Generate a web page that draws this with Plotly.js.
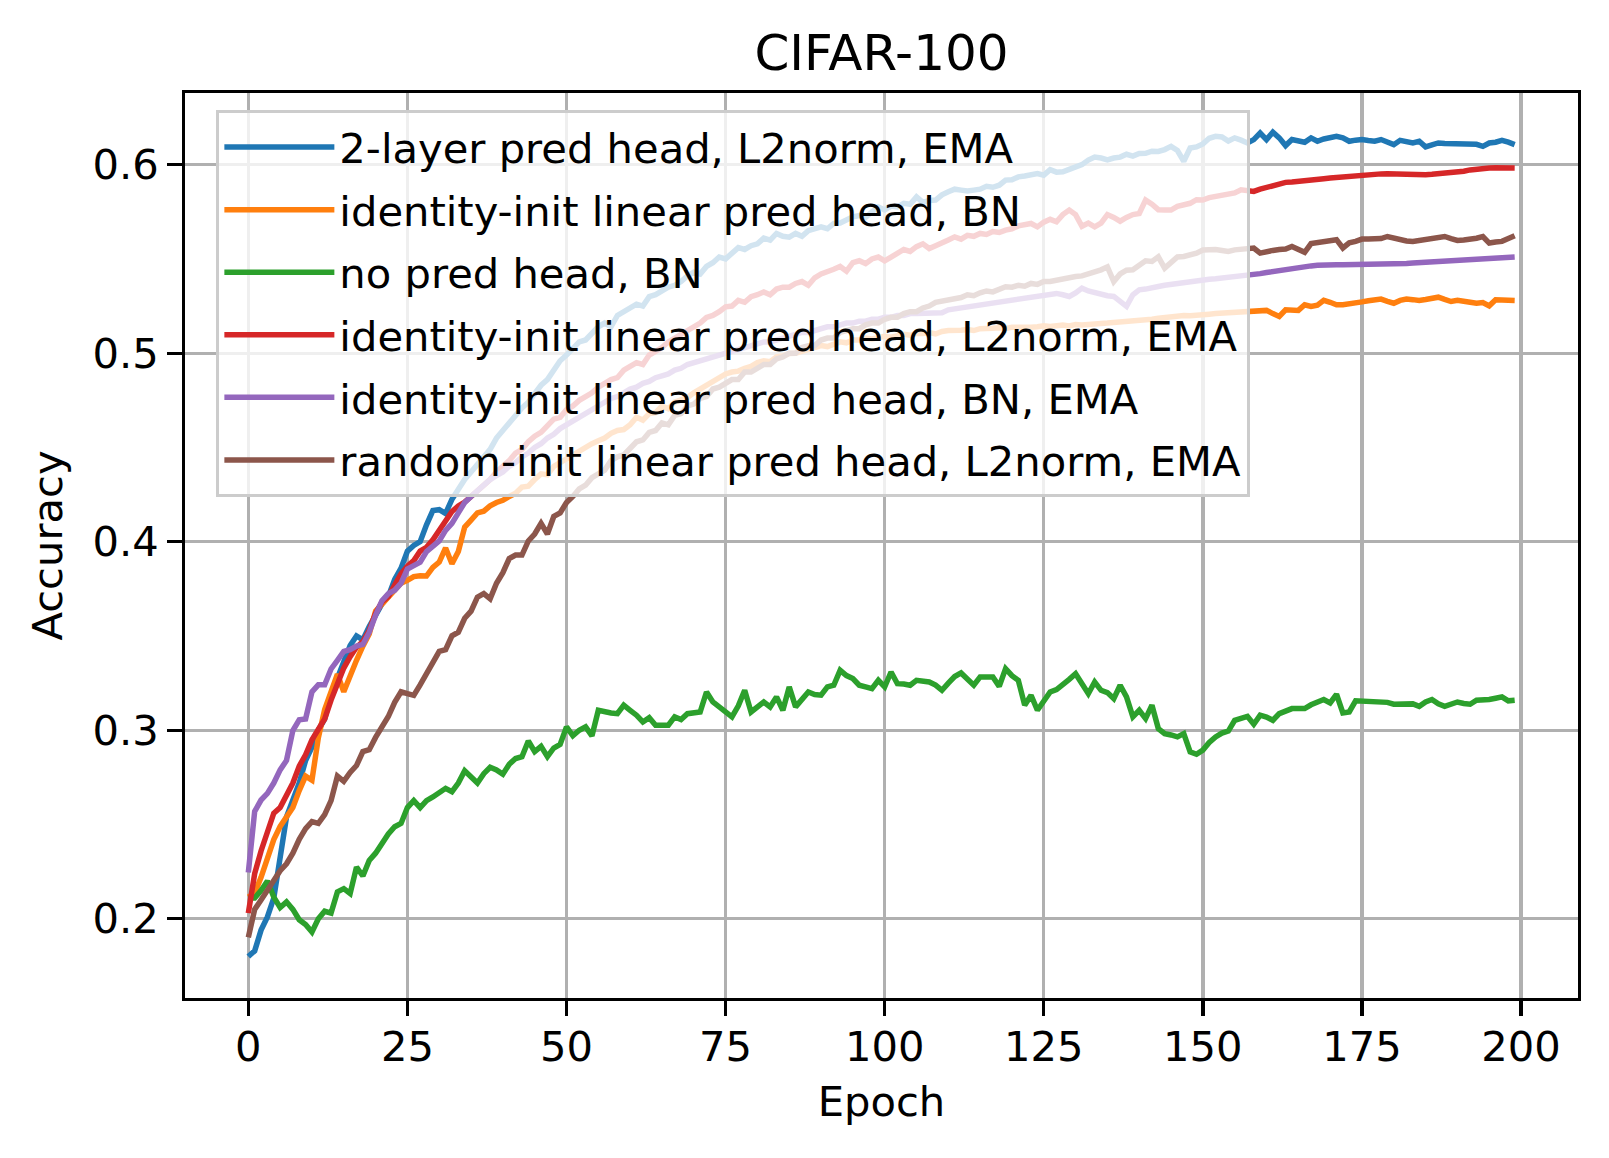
<!DOCTYPE html>
<html><head><meta charset="utf-8">
<script src="https://cdn.plot.ly/plotly-3.0.1.min.js"></script>
<style>html,body{margin:0;padding:0;background:#fff}#chart{width:1609px;height:1158px}</style>
</head><body><div id="chart"></div>
<script>
const seriesNames = [
  "2-layer pred head, L2norm, EMA",
  "identity-init linear pred head, BN",
  "no pred head, BN",
  "identity-init linear pred head, L2norm, EMA",
  "identity-init linear pred head, BN, EMA",
  "random-init linear pred head, L2norm, EMA"
];
const seriesColors = ["#1f77b4", "#ff7f0e", "#2ca02c", "#d62728", "#9467bd", "#8c564b"];

const twoLayerL2normEMA = [
  0.180,0.183,0.194,0.201,0.211,0.231,0.254,0.263,0.272,0.284,
  0.291,0.300,0.306,0.319,0.328,0.338,0.345,0.350,0.348,0.355,
  0.361,0.367,0.371,0.380,0.386,0.395,0.398,0.400,0.409,0.4165,
  0.417,0.415,0.4225,0.428,0.433,0.437,0.441,0.444,0.449,0.455,
  0.459,0.463,0.468,0.471,0.474,0.479,0.483,0.486,0.491,0.496,
  0.499,0.503,0.506,0.507,0.511,0.514,0.516,0.514,0.520,0.522,
  0.524,0.526,0.525,0.530,0.531,0.533,0.535,0.536,0.538,0.541,
  0.543,0.542,0.546,0.548,0.551,0.550,0.553,0.556,0.555,0.557,
  0.558,0.561,0.560,0.5635,0.562,0.5615,0.5635,0.562,0.565,0.566,
  0.567,0.566,0.5688,0.569,0.571,0.5723,0.573,0.572,0.575,0.5776,
  0.576,0.578,0.5776,0.5795,0.579,0.5829,0.580,0.581,0.5812,0.584,
  0.5856,0.587,0.5865,0.586,0.5865,0.587,0.5885,0.588,0.5891,0.5918,
  0.592,0.5935,0.594,0.5944,0.5953,0.5944,0.5973,0.596,0.5962,0.5975,
  0.599,0.600,0.6024,0.604,0.6035,0.6025,0.6035,0.604,0.6055,0.6045,
  0.6059,0.606,0.6071,0.607,0.608,0.6097,0.6075,0.6018,0.6088,0.6094,
  0.611,0.614,0.615,0.6147,0.6125,0.6142,0.613,0.6115,0.6133,0.6168,
  0.6133,0.6172,0.6142,0.6101,0.6133,0.6125,0.6119,0.6142,0.6124,0.6136,
  0.6145,0.615,0.6142,0.6124,0.613,0.6133,0.6128,0.6124,0.6133,0.612,
  0.6106,0.6129,0.612,0.6115,0.6124,0.6094,0.6105,0.6115,0.6112,0.6112,
  0.6115,0.6113,0.6112,0.6108,0.6097,0.6115,0.6119,0.6129,0.6119,0.6106
];
const identityLinearBN = [
  0.2115,0.2135,0.222,0.232,0.242,0.249,0.2535,0.259,0.268,0.2757,
  0.2735,0.296,0.311,0.3204,0.3297,0.3204,0.3297,0.3371,0.3446,0.3511,
  0.3632,0.3669,0.3706,0.3743,0.378,0.3795,0.3815,0.382,0.3818,0.3864,
  0.3892,0.3967,0.3883,0.3948,0.4078,0.4115,0.4153,0.4162,0.419,0.4208,
  0.422,0.424,0.4257,0.429,0.4295,0.433,0.436,0.4355,0.440,0.442,
  0.444,0.4465,0.4486,0.450,0.452,0.4535,0.455,0.4575,0.459,0.4595,
  0.462,0.466,0.4645,0.468,0.4685,0.472,0.4705,0.474,0.4751,0.4765,
  0.479,0.481,0.4825,0.485,0.4865,0.489,0.490,0.4905,0.492,0.493,
  0.495,0.496,0.4955,0.498,0.4985,0.4999,0.500,0.501,0.5025,0.503,
  0.504,0.5035,0.505,0.506,0.5055,0.507,0.507,0.508,0.5075,0.5085,
  0.509,0.5085,0.5095,0.510,0.5095,0.5105,0.5105,0.511,0.5102,0.5115,
  0.512,0.5118,0.5122,0.5125,0.512,0.513,0.5128,0.5132,0.5135,0.513,
  0.5138,0.5136,0.514,0.5138,0.514,0.5145,0.5142,0.5148,0.515,0.5145,
  0.5152,0.515,0.5155,0.5153,0.5158,0.516,0.5162,0.5165,0.517,0.5168,
  0.5175,0.5178,0.518,0.5185,0.519,0.5193,0.5195,0.520,0.5198,0.5203,
  0.5205,0.5207,0.521,0.5212,0.5208,0.5214,0.5216,0.5218,0.5221,0.5225,
  0.5227,0.521,0.5195,0.523,0.5228,0.5227,0.5257,0.5248,0.5255,0.528,
  0.527,0.5257,0.5257,0.526,0.5265,0.5272,0.5278,0.528,0.5287,0.5275,
  0.5265,0.528,0.5287,0.5284,0.528,0.5285,0.5292,0.5297,0.5285,0.5274,
  0.528,0.5278,0.527,0.5265,0.5269,0.5251,0.5283,0.5282,0.528,0.528
];
const noPredHeadBN = [
  0.211,0.211,0.215,0.220,0.2115,0.206,0.209,0.205,0.1995,0.197,
  0.193,0.200,0.204,0.203,0.2143,0.216,0.2134,0.2274,0.2227,0.231,
  0.2348,0.2404,0.245,0.2488,0.2506,0.259,0.2627,0.259,0.2627,0.2646,
  0.2665,0.2692,0.2674,0.272,0.2785,0.275,0.272,0.277,0.2804,0.279,
  0.2767,0.282,0.285,0.286,0.2943,0.2887,0.2915,0.286,0.2906,0.2925,
  0.3018,0.2971,0.300,0.3018,0.297,0.3106,0.3097,0.3092,0.3088,0.3133,
  0.3106,0.308,0.3044,0.3067,0.3027,0.3027,0.3027,0.3071,0.3057,0.3088,
  0.309,0.3097,0.3203,0.315,0.3124,0.310,0.3071,0.313,0.3212,0.3097,
  0.312,0.315,0.3124,0.3177,0.3106,0.323,0.3124,0.316,0.3203,0.319,
  0.3186,0.323,0.3239,0.3318,0.329,0.3274,0.3239,0.323,0.3221,0.3265,
  0.323,0.3309,0.3247,0.3245,0.3239,0.3265,0.326,0.3256,0.324,0.3212,
  0.325,0.3285,0.3304,0.327,0.3239,0.3283,0.3283,0.3283,0.3233,0.3327,
  0.329,0.3265,0.3133,0.3186,0.3106,0.315,0.3203,0.3216,0.324,0.327,
  0.330,0.3245,0.3194,0.3256,0.3212,0.320,0.3168,0.3239,0.3177,0.3071,
  0.3106,0.3062,0.3133,0.3009,0.2982,0.2975,0.2965,0.2982,0.2885,0.2873,
  0.2895,0.2935,0.2965,0.2985,0.2996,0.3053,0.306,0.3074,0.3032,0.308,
  0.307,0.3053,0.3088,0.310,0.3115,0.3115,0.3115,0.3135,0.315,0.3163,
  0.3145,0.3191,0.3092,0.3097,0.3156,0.3154,0.3154,0.3152,0.315,0.3148,
  0.3138,0.314,0.3145,0.314,0.3127,0.315,0.3163,0.314,0.3127,0.3135,
  0.315,0.3142,0.3138,0.3159,0.316,0.3163,0.317,0.3177,0.3156,0.3159
];
const identityLinearL2normEMA = [
  0.203,0.224,0.236,0.247,0.256,0.259,0.265,0.272,0.281,0.287,
  0.295,0.301,0.306,0.316,0.325,0.333,0.339,0.344,0.347,0.353,
  0.362,0.368,0.371,0.377,0.383,0.387,0.390,0.395,0.397,0.401,
  0.406,0.411,0.416,0.419,0.421,0.424,0.427,0.430,0.433,0.437,
  0.440,0.443,0.447,0.449,0.453,0.456,0.458,0.462,0.465,0.466,
  0.470,0.472,0.475,0.477,0.479,0.482,0.484,0.486,0.487,0.491,
  0.493,0.495,0.494,0.499,0.501,0.503,0.506,0.508,0.510,0.512,
  0.514,0.516,0.519,0.520,0.522,0.5246,0.525,0.528,0.527,0.530,
  0.531,0.5325,0.531,0.534,0.535,0.535,0.537,0.538,0.536,0.540,
  0.542,0.543,0.5445,0.546,0.5435,0.548,0.549,0.5475,0.550,0.551,
  0.549,0.551,0.553,0.555,0.554,0.5565,0.558,0.5555,0.557,0.5582,
  0.560,0.5617,0.5605,0.5625,0.562,0.5635,0.563,0.5645,0.564,0.5653,
  0.566,0.5675,0.568,0.5688,0.567,0.5695,0.571,0.5697,0.5735,0.5759,
  0.5735,0.5673,0.569,0.567,0.569,0.5735,0.572,0.570,0.572,0.5735,
  0.5741,0.5812,0.579,0.5761,0.576,0.5759,0.5779,0.579,0.5795,0.5814,
  0.5812,0.5825,0.583,0.5841,0.584,0.585,0.5867,0.5862,0.5858,0.587,
  0.588,0.5885,0.5895,0.5906,0.5908,0.591,0.5915,0.592,0.5922,0.5925,
  0.5929,0.5932,0.5936,0.5942,0.5944,0.5947,0.5948,0.595,0.5951,0.5952,
  0.5951,0.5948,0.5945,0.5942,0.5944,0.5947,0.5949,0.5951,0.5952,0.5955,
  0.5959,0.5965,0.5972,0.5977,0.598,0.5982,0.5983,0.5983,0.5982,0.5982
];
const identityLinearBNEMA = [
  0.2246,0.257,0.263,0.2665,0.272,0.279,0.284,0.2999,0.3055,0.306,
  0.3204,0.3241,0.3241,0.3325,0.3371,0.3418,0.3427,0.3446,0.3455,0.352,
  0.361,0.3687,0.3725,0.3743,0.378,0.3855,0.3873,0.3892,0.3948,0.398,
  0.4004,0.406,0.4097,0.4153,0.4208,0.424,0.427,0.430,0.433,0.435,
  0.437,0.440,0.442,0.445,0.447,0.450,0.452,0.455,0.457,0.460,
  0.462,0.464,0.466,0.468,0.470,0.472,0.474,0.476,0.477,0.479,
  0.481,0.482,0.484,0.485,0.487,0.488,0.489,0.491,0.492,0.494,
  0.495,0.496,0.497,0.498,0.499,0.500,0.501,0.502,0.503,0.504,
  0.505,0.506,0.506,0.507,0.508,0.509,0.510,0.511,0.511,0.512,
  0.513,0.514,0.514,0.515,0.516,0.516,0.517,0.517,0.518,0.518,
  0.519,0.519,0.520,0.520,0.521,0.521,0.521,0.5215,0.521,0.5215,
  0.523,0.5235,0.524,0.5245,0.525,0.526,0.5265,0.527,0.5275,0.528,
  0.5285,0.529,0.5295,0.530,0.5305,0.531,0.5317,0.5317,0.531,0.5301,
  0.532,0.5345,0.533,0.532,0.531,0.5305,0.5301,0.527,0.5248,0.531,
  0.5336,0.534,0.535,0.5354,0.536,0.5365,0.5372,0.5378,0.538,0.5385,
  0.5389,0.5392,0.5395,0.5398,0.540,0.5405,0.541,0.5413,0.5416,0.5422,
  0.5428,0.5434,0.544,0.5446,0.5451,0.5455,0.5459,0.5463,0.5466,0.5469,
  0.5469,0.5469,0.5469,0.5469,0.5469,0.547,0.547,0.5471,0.5472,0.5473,
  0.5474,0.5475,0.5476,0.5478,0.548,0.5481,0.5484,0.5487,0.549,0.5492,
  0.5495,0.5497,0.550,0.5502,0.5504,0.5505,0.5506,0.5508,0.5509,0.551
];
const randomLinearL2normEMA = [
  0.1901,0.205,0.210,0.215,0.220,0.2255,0.2292,0.2348,0.2422,0.2478,
  0.2515,0.2506,0.2553,0.2627,0.2757,0.2729,0.2776,0.2813,0.2887,0.2897,
  0.2962,0.3018,0.3073,0.3148,0.3204,0.3194,0.3185,0.3241,0.3297,0.3353,
  0.3418,0.3427,0.3501,0.352,0.3594,0.3632,0.3706,0.3725,0.3697,0.378,
  0.3836,0.3911,0.3929,0.3929,0.4004,0.4041,0.4097,0.4041,0.4134,0.4153,
  0.4208,0.424,0.428,0.430,0.434,0.436,0.438,0.443,0.445,0.446,
  0.450,0.453,0.454,0.458,0.459,0.463,0.462,0.467,0.468,0.472,
  0.473,0.476,0.477,0.481,0.482,0.484,0.486,0.486,0.490,0.490,
  0.492,0.494,0.494,0.497,0.498,0.500,0.500,0.503,0.504,0.504,
  0.507,0.508,0.508,0.511,0.512,0.513,0.513,0.515,0.516,0.516,
  0.518,0.519,0.519,0.521,0.522,0.522,0.524,0.525,0.527,0.5275,
  0.528,0.529,0.5295,0.531,0.5305,0.532,0.533,0.5325,0.534,0.5352,
  0.535,0.536,0.5355,0.537,0.5365,0.538,0.538,0.5388,0.539,0.540,
  0.5407,0.541,0.542,0.543,0.5442,0.5458,0.538,0.542,0.544,0.5442,
  0.547,0.549,0.5487,0.5511,0.5451,0.548,0.551,0.5513,0.552,0.553,
  0.5547,0.5549,0.555,0.5545,0.554,0.5548,0.555,0.5552,0.5558,0.5531,
  0.554,0.5545,0.555,0.5552,0.5566,0.5552,0.5535,0.5581,0.5585,0.5593,
  0.5598,0.5602,0.5558,0.5585,0.5593,0.5605,0.5605,0.5605,0.5608,0.5619,
  0.561,0.5598,0.5595,0.5593,0.5598,0.5602,0.5611,0.5615,0.5619,0.5608,
  0.5598,0.560,0.5602,0.561,0.5619,0.5584,0.559,0.5593,0.5608,0.5623
];

const allSeries = [twoLayerL2normEMA, identityLinearBN, noPredHeadBN,
                   identityLinearL2normEMA, identityLinearBNEMA, randomLinearL2normEMA];
const xTickVals = [0, 25, 50, 75, 100, 125, 150, 175, 200];
const yTickVals = [0.2, 0.3, 0.4, 0.5, 0.6];
const yTickText = ["0.2", "0.3", "0.4", "0.5", "0.6"];

const FONT = "DejaVu Sans, Verdana, sans-serif";
const FS = 41.67;

const traces = allSeries.map((vals, i) => ({
  type: "scatter",
  mode: "lines",
  x: vals.map((_, k) => k),
  y: vals,
  name: seriesNames[i],
  legendgroup: "g" + i,
  line: {color: seriesColors[i], width: 5.5}
}));

const axisCommon = {
  ticks: "outside", ticklen: 14.6, tickwidth: 3.3, tickcolor: "#000",
  showgrid: true, gridcolor: "#b0b0b0", gridwidth: 3.3,
  zeroline: false, showline: true, linecolor: "#000", linewidth: 3.3, mirror: true,
  tickfont: {family: FONT, size: FS, color: "#000"}
};

const layout = {
  width: 1609, height: 1158,
  margin: {l: 185, r: 31, t: 93, b: 160, pad: 0},
  paper_bgcolor: "#ffffff", plot_bgcolor: "#ffffff",
  font: {family: FONT, size: FS, color: "#000"},
  title: {text: "CIFAR-100", font: {family: FONT, size: 50, color: "#000"},
          x: 0.5, xref: "paper", xanchor: "center",
          y: 1 - 52 / 1158, yref: "container", yanchor: "middle"},
  xaxis: Object.assign({}, axisCommon, {
    range: [-9.95, 208.95], tickmode: "array", tickvals: xTickVals,
    ticktext: xTickVals.map(String), ticklabelstandoff: -5,
    title: {text: "Epoch", font: {family: FONT, size: FS, color: "#000"}, standoff: 18}
  }),
  yaxis: Object.assign({}, axisCommon, {
    range: [0.158, 0.638], tickmode: "array", tickvals: yTickVals, ticktext: yTickText,
    title: {text: "Accuracy", font: {family: FONT, size: FS, color: "#000"}, standoff: 18}
  }),
  showlegend: true,
  legend: {
    x: 0.0223, y: 0.9810, xanchor: "left", yanchor: "top",
    bgcolor: "rgba(255,255,255,0.8)", bordercolor: "#cccccc", borderwidth: 3.3,
    font: {family: FONT, size: FS, color: "#000"},
    itemwidth: 110, traceorder: "grouped", tracegroupgap: 5.4
  }
};

Plotly.newPlot("chart", traces, layout, {displayModeBar: false, staticPlot: true});
</script>
</body></html>
